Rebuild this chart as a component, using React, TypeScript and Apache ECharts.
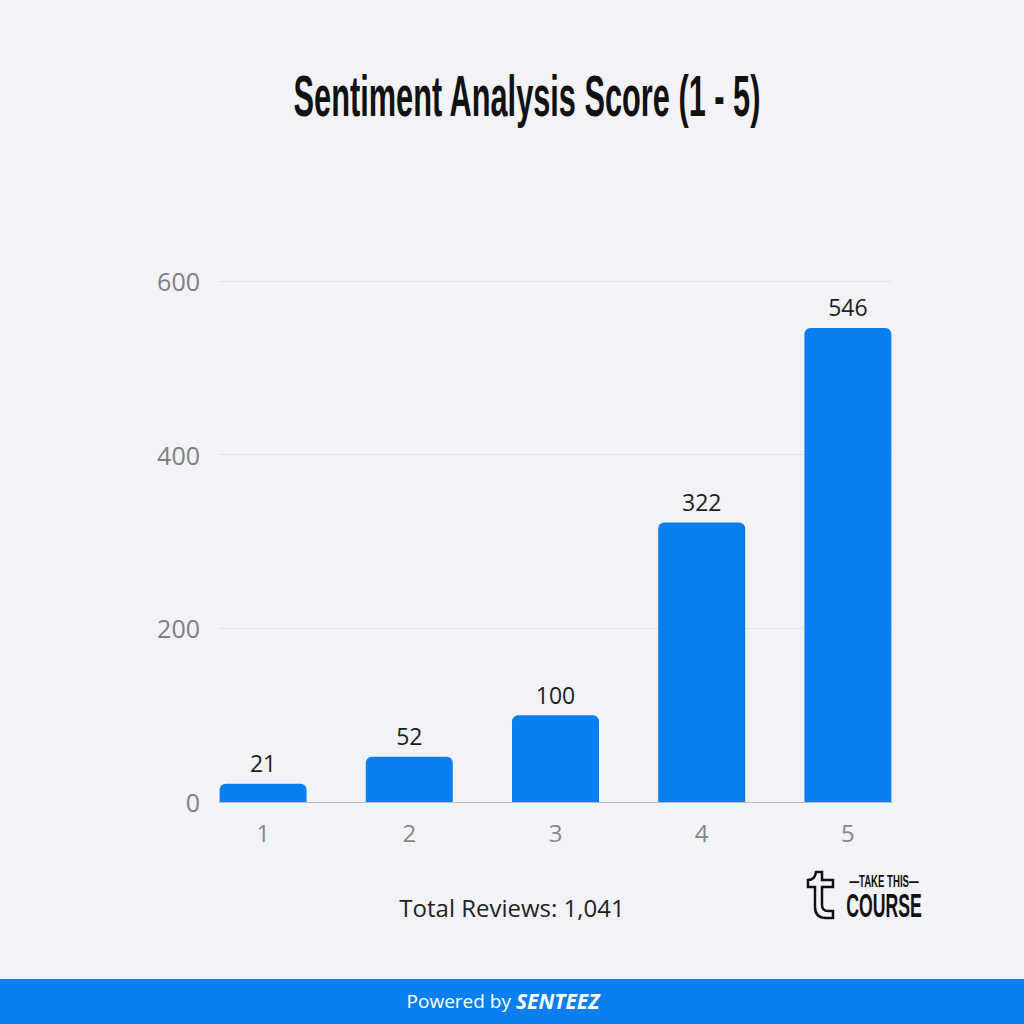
import React, { useEffect, useRef } from "react";
import * as echarts from "echarts";

const categories = ["1", "2", "3", "4", "5"];
const reviewCounts = [21, 52, 100, 322, 546];
const yTicks = { min: 0, max: 600, interval: 200 };
const titleText = "Sentiment Analysis Score (1 - 5)";
const totalText = "Total Reviews: 1,041";

const BLUE = "#0b7ff1";
const BG = "#f2f3f7";

const T_ICON =
  "M 8 0 L 14 0 L 14 8 L 25 8 L 25 15 L 14 15 L 14 33 Q 14 39 20 39 L 25 39 L 25 46 L 18 46 Q 7 46 7 35 L 7 15 L 0 15 L 0 8 Q 7 8 8 0 Z";

export default function App() {
  const ref = useRef<HTMLDivElement>(null);
  useEffect(() => {
    document.body.style.margin = "0";
    try {
      echarts.graphic.registerShape("tlogo", echarts.graphic.extendPath(T_ICON, {}) as any);
    } catch (e) {}
    const chart = echarts.init(ref.current!, undefined, { renderer: "svg" });
    const font = "Open Sans";
    chart.setOption({
      animation: false,
      backgroundColor: BG,
      grid: [
        { left: 219, right: 132, top: 281, bottom: 222 },
        { left: 190, right: 103, top: 281, bottom: 222 },
      ],
      xAxis: [
        {
          gridIndex: 0,
          type: "category",
          data: categories,
          axisLine: { show: true, lineStyle: { color: "#b9b9bd", width: 1 } },
          axisTick: { show: false },
          axisLabel: { show: false },
        },
        {
          gridIndex: 1,
          type: "category",
          data: categories,
          axisLine: { show: false },
          axisTick: { show: false },
          axisLabel: { color: "#888888", fontSize: 24, fontFamily: font, margin: 18 },
        },
      ],
      yAxis: [
        {
          gridIndex: 0,
          type: "value",
          min: yTicks.min,
          max: yTicks.max,
          interval: yTicks.interval,
          axisLine: { show: false },
          axisTick: { show: false },
          axisLabel: { color: "#808080", fontSize: 25, fontFamily: font, margin: 19 },
          splitLine: { lineStyle: { color: "#e2e3e8", width: 1 } },
        },
        {
          gridIndex: 1,
          type: "value",
          min: yTicks.min,
          max: yTicks.max,
          interval: yTicks.interval,
          show: false,
          splitLine: { show: false },
        },
      ],
      series: [
        {
          type: "bar",
          xAxisIndex: 1,
          yAxisIndex: 1,
          data: reviewCounts,
          barWidth: 87,
          itemStyle: { color: BLUE, borderRadius: [6, 6, 0, 0] },
          label: {
            show: true,
            position: "top",
            distance: 9,
            color: "#1e1e1e",
            fontSize: 23,
            fontFamily: font,
          },
        },
      ],
      graphic: [
        {
          type: "text",
          x: 527,
          y: 96,
          scaleX: 0.53,
          style: {
            text: titleText,
            x: 0,
            y: 0,
            align: "center",
            verticalAlign: "middle",
            fontFamily: "Liberation Sans",
            fontWeight: "bold",
            fontSize: 58,
            fill: "#111111",
          },
        },
        {
          type: "text",
          x: 512,
          y: 907,
          style: {
            text: totalText,
            align: "center",
            verticalAlign: "middle",
            fontFamily: font,
            fontSize: 24,
            fill: "#222222",
          },
        },
        {
          type: "rect",
          shape: { x: 0, y: 979, width: 1024, height: 45 },
          style: { fill: BLUE },
        },
        {
          type: "text",
          x: 503,
          y: 1001,
          style: {
            text: "{a|Powered by }{b|SENTEEZ}",
            align: "center",
            verticalAlign: "middle",
            rich: {
              a: { fontFamily: font, fontSize: 19, fill: "#ffffff", color: "#ffffff" },
              b: {
                fontFamily: font,
                fontSize: 21,
                fontWeight: "bold",
                fontStyle: "italic",
                fill: "#ffffff",
                color: "#ffffff",
              },
            },
          },
        },
        {
          type: "tlogo",
          x: 808,
          y: 872,
          scaleX: 1,
          scaleY: 1,
          style: { fill: "none", stroke: "#111111", lineWidth: 2.5 },
        },
        {
          type: "text",
          x: 884,
          y: 882,
          scaleX: 0.6,
          style: {
            text: "—TAKE THIS—",
            align: "center",
            verticalAlign: "middle",
            fontFamily: "Liberation Sans",
            fontWeight: "bold",
            fontSize: 16,
            fill: "#111111",
          },
        },
        {
          type: "text",
          x: 884,
          y: 905,
          scaleX: 0.52,
          style: {
            text: "COURSE",
            align: "center",
            verticalAlign: "middle",
            fontFamily: "Liberation Sans",
            fontWeight: "bold",
            fontSize: 34,
            fill: "#111111",
          },
        },
      ],
    });
    return () => chart.dispose();
  }, []);
  return <div ref={ref} style={{ width: 1024, height: 1024 }} />;
}
